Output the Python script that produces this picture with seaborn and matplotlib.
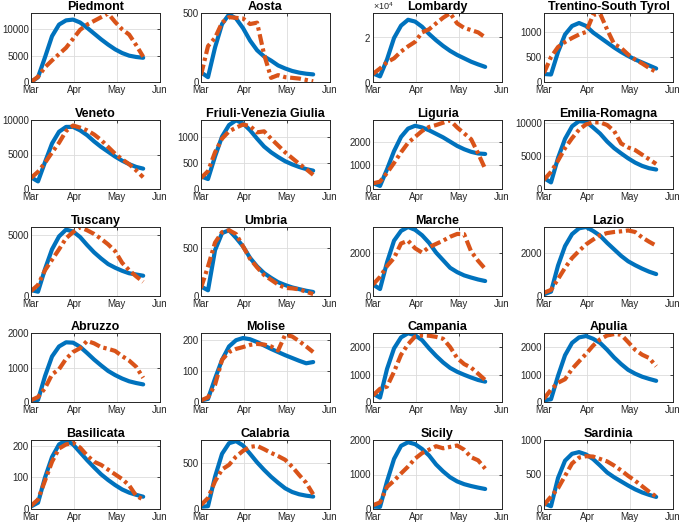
import matplotlib
matplotlib.use("Agg")
import matplotlib.pyplot as plt
import matplotlib.dates as mdates
from matplotlib.ticker import MultipleLocator, ScalarFormatter
import pandas as pd
import seaborn as sns

# Sample dates (every 5 days, Mar 1 - May 20 2020)
dates = pd.to_datetime([
    '2020-03-01', '2020-03-06', '2020-03-11', '2020-03-16', '2020-03-21',
    '2020-03-26', '2020-03-31', '2020-04-05', '2020-04-10', '2020-04-15',
    '2020-04-20', '2020-04-25', '2020-04-30', '2020-05-05', '2020-05-10',
    '2020-05-15', '2020-05-20'])

regions = ['Piedmont', 'Aosta', 'Lombardy', 'Trentino-South Tyrol',
           'Veneto', 'Friuli-Venezia Giulia', 'Liguria', 'Emilia-Romagna',
           'Tuscany', 'Umbria', 'Marche', 'Lazio',
           'Abruzzo', 'Molise', 'Campania', 'Apulia',
           'Basilicata', 'Calabria', 'Sicily', 'Sardinia']

piedmont_model = [0, 900, 4700, 8700, 10900, 11700, 11850, 11300, 10300, 9200, 8100, 7100, 6200, 5500, 5000, 4750, 4600]
piedmont_data = [0, 1000, 2800, 4100, 5300, 6500, 8200, 9900, 10900, 11600, 12300, 13000, 11400, 10000, 9000, 7000, 4800]
aosta_model = [70, 35, 250, 420, 490, 460, 390, 300, 230, 185, 155, 120, 98, 80, 68, 60, 55]
aosta_data = [50, 260, 320, 430, 470, 465, 460, 420, 430, 200, 30, 50, 35, 30, 25, 15, 5]
lombardy_model = [3800, 2500, 10000, 19500, 25000, 27600, 26800, 24500, 21300, 18500, 16000, 13800, 12000, 10500, 9000, 7800, 6700]
lombardy_data = [3600, 6000, 8800, 10500, 13500, 15800, 17800, 22000, 23400, 26000, 28500, 30500, 26000, 24000, 23000, 22000, 19800]
trentino_model = [160, 150, 600, 950, 1120, 1180, 1120, 990, 890, 790, 690, 600, 520, 450, 390, 330, 270]
trentino_data = [180, 500, 700, 800, 880, 950, 1000, 1340, 1370, 1050, 760, 680, 550, 450, 370, 280, 200]
veneto_model = [1700, 1100, 3900, 6600, 8300, 9000, 9000, 8500, 7800, 6900, 6100, 5400, 4700, 4100, 3600, 3200, 2950]
veneto_data = [1600, 2500, 3800, 5300, 6700, 8400, 9200, 8900, 8500, 7900, 7100, 6100, 5100, 4300, 3600, 2700, 1700]
friuli_model = [240, 190, 620, 1000, 1220, 1310, 1250, 1120, 960, 810, 700, 610, 530, 470, 420, 380, 350]
friuli_data = [210, 340, 700, 960, 1100, 1170, 1230, 1200, 1080, 1100, 960, 830, 700, 590, 480, 380, 270]
liguria_model = [250, 130, 830, 1600, 2200, 2550, 2670, 2600, 2480, 2330, 2180, 2000, 1820, 1680, 1570, 1500, 1480]
liguria_data = [240, 310, 680, 1100, 1550, 1950, 2200, 2450, 2620, 2700, 2800, 2900, 2600, 2350, 2100, 1500, 850]
emilia_model = [1650, 1000, 4700, 7600, 9500, 10300, 10200, 9330, 8400, 7200, 6200, 5400, 4650, 4000, 3500, 3150, 2950]
emilia_data = [1400, 2600, 4300, 6200, 7700, 9000, 9800, 10100, 10100, 9700, 8800, 6900, 6300, 5900, 5200, 4500, 3800]
tuscany_model = [480, 350, 2200, 3800, 4850, 5400, 5250, 4800, 4150, 3550, 3050, 2600, 2300, 2050, 1850, 1750, 1650]
tuscany_data = [400, 900, 2100, 2950, 3800, 4700, 5200, 5600, 5350, 5050, 4650, 4200, 3650, 2700, 2100, 1600, 1150]
umbria_model = [100, 60, 480, 660, 690, 610, 520, 400, 310, 240, 190, 145, 115, 90, 72, 55, 42]
umbria_data = [85, 310, 560, 670, 690, 650, 520, 390, 300, 220, 170, 120, 85, 80, 70, 45, 20]
marche_model = [530, 320, 1550, 2550, 3000, 3180, 3050, 2800, 2450, 2000, 1650, 1300, 1100, 950, 850, 760, 690]
marche_data = [530, 880, 1380, 1750, 2420, 2550, 2200, 2000, 2250, 2400, 2550, 2730, 2860, 2850, 2050, 1620, 1250]
lazio_model = [80, 200, 1400, 2300, 2850, 3120, 3180, 3000, 2780, 2450, 2150, 1850, 1600, 1420, 1260, 1120, 1010]
lazio_data = [150, 280, 780, 1300, 1750, 2080, 2380, 2600, 2800, 2900, 2950, 2980, 3020, 2950, 2700, 2500, 2320]
abruzzo_model = [40, 60, 750, 1320, 1610, 1730, 1720, 1600, 1420, 1230, 1060, 900, 780, 680, 600, 550, 510]
abruzzo_data = [50, 145, 400, 800, 950, 1250, 1450, 1560, 1770, 1700, 1590, 1540, 1480, 1330, 1200, 1020, 700]
molise_model = [5, 10, 75, 135, 178, 198, 205, 201, 192, 181, 170, 160, 150, 141, 132, 124, 128]
molise_data = [5, 15, 55, 135, 160, 170, 176, 183, 186, 184, 178, 165, 215, 210, 195, 178, 160]
campania_model = [300, 160, 1200, 1950, 2350, 2500, 2430, 2250, 1950, 1680, 1440, 1240, 1100, 990, 890, 800, 740]
campania_data = [240, 480, 560, 1100, 1720, 2100, 2380, 2420, 2410, 2370, 2300, 2000, 1600, 1380, 1250, 1030, 800]
apulia_model = [60, 100, 950, 1700, 2150, 2350, 2400, 2300, 2150, 1900, 1620, 1380, 1170, 1030, 920, 840, 770]
apulia_data = [120, 450, 700, 830, 1200, 1480, 1750, 2050, 2280, 2420, 2470, 2450, 2180, 1900, 1720, 1600, 1300]
basilicata_model = [8, 20, 100, 165, 205, 218, 205, 180, 155, 132, 110, 92, 76, 62, 52, 45, 39]
basilicata_data = [10, 30, 90, 150, 192, 205, 210, 195, 170, 150, 140, 125, 110, 95, 75, 42, 30]
calabria_model = [25, 30, 350, 600, 715, 738, 690, 600, 507, 425, 350, 285, 225, 185, 160, 145, 135]
calabria_data = [43, 120, 300, 430, 480, 570, 632, 675, 686, 650, 610, 575, 535, 460, 370, 285, 160]
sicily_model = [70, 60, 800, 1450, 1830, 1935, 1880, 1740, 1550, 1290, 1090, 920, 800, 720, 665, 620, 580]
sicily_data = [110, 190, 640, 820, 1030, 1230, 1460, 1620, 1720, 1820, 1760, 1800, 1840, 1720, 1500, 1410, 1170]
sardinia_model = [80, 40, 450, 700, 800, 825, 790, 724, 630, 530, 460, 400, 340, 285, 240, 205, 175]
sardinia_data = [60, 180, 300, 480, 660, 745, 765, 760, 725, 690, 630, 560, 480, 410, 330, 250, 180]

model_series = [piedmont_model, aosta_model, lombardy_model, trentino_model,
                veneto_model, friuli_model, liguria_model, emilia_model,
                tuscany_model, umbria_model, marche_model, lazio_model,
                abruzzo_model, molise_model, campania_model, apulia_model,
                basilicata_model, calabria_model, sicily_model, sardinia_model]
data_series = [piedmont_data, aosta_data, lombardy_data, trentino_data,
               veneto_data, friuli_data, liguria_data, emilia_data,
               tuscany_data, umbria_data, marche_data, lazio_data,
               abruzzo_data, molise_data, campania_data, apulia_data,
               basilicata_data, calabria_data, sicily_data, sardinia_data]

# axis settings per panel
y_top = [13100, 500, 30600, 1380, 10000, 1316, 2914, 10460, 5615, 724,
         3180, 3180, 2000, 221, 2510, 2510, 219, 750, 2000, 1000]
y_step = [5000, 500, 20000, 500, 5000, 500, 1000, 5000, 5000, 500,
          2000, 2000, 1000, 100, 1000, 1000, 100, 500, 1000, 500]

sns.set_theme(style="whitegrid")
plt.rcParams['font.family'] = ['Liberation Sans', 'DejaVu Sans']
plt.rcParams['mathtext.fontset'] = 'custom'
plt.rcParams['mathtext.rm'] = 'Liberation Sans'

W, H = 683, 532
fig = plt.figure(figsize=(W / 100, H / 100), dpi=100)
col_left = [31, 201, 373, 544]
row_top = [13, 120, 227, 333, 440]
ax_w, ax_h = 129, 69
dark = '#262626'

for i, name in enumerate(regions):
    r, c = divmod(i, 4)
    ax = fig.add_axes([col_left[c] / W, 1 - (row_top[r] + ax_h) / H, ax_w / W, ax_h / H])
    n = len(dates)
    df = pd.DataFrame({
        'date': list(dates) * 2,
        'cases': model_series[i] + data_series[i],
        'series': ['model'] * n + ['data'] * n,
    })
    sns.lineplot(data=df, x='date', y='cases', hue='series', style='series',
                 palette={'model': '#0072BD', 'data': '#D95319'},
                 dashes={'model': '', 'data': (2.6, 0.9, 0.8, 0.9)},
                 linewidth=3, legend=False, ax=ax)

    ax.set_xlim(pd.Timestamp('2020-03-01'), pd.Timestamp('2020-06-01'))
    ax.set_ylim(0, y_top[i])
    ax.xaxis.set_major_locator(mdates.MonthLocator())
    ax.xaxis.set_major_formatter(mdates.DateFormatter('%b'))
    ax.yaxis.set_major_locator(MultipleLocator(y_step[i]))
    if name == 'Lombardy':
        # ticks shown in units of 10^4, exponent written above the axes
        fmt = ScalarFormatter(useMathText=True)
        fmt.set_powerlimits((0, 0))
        ax.yaxis.set_major_formatter(fmt)
        ax.yaxis.get_offset_text().set_visible(False)
        ax.text(0.0, 1.015, r'$\times10^{4}$', transform=ax.transAxes,
                fontsize=6.5, color=dark, ha='left', va='bottom')
    ax.set_xlabel('')
    ax.set_ylabel('')
    ax.set_title(name, fontsize=9, fontweight='bold', pad=2, color='black')
    ax.set_facecolor('white')
    ax.grid(True, color='#dcdcdc', linewidth=0.6)
    ax.tick_params(direction='in', length=2.5, width=0.6, labelsize=7, pad=1.5,
                   top=True, right=True, colors=dark, labelcolor=dark)
    ax.tick_params(axis='x', pad=2.5)
    for s in ax.spines.values():
        s.set_visible(True)
        s.set_color(dark)
        s.set_linewidth(0.7)

fig.savefig('out.png', dpi=100)
